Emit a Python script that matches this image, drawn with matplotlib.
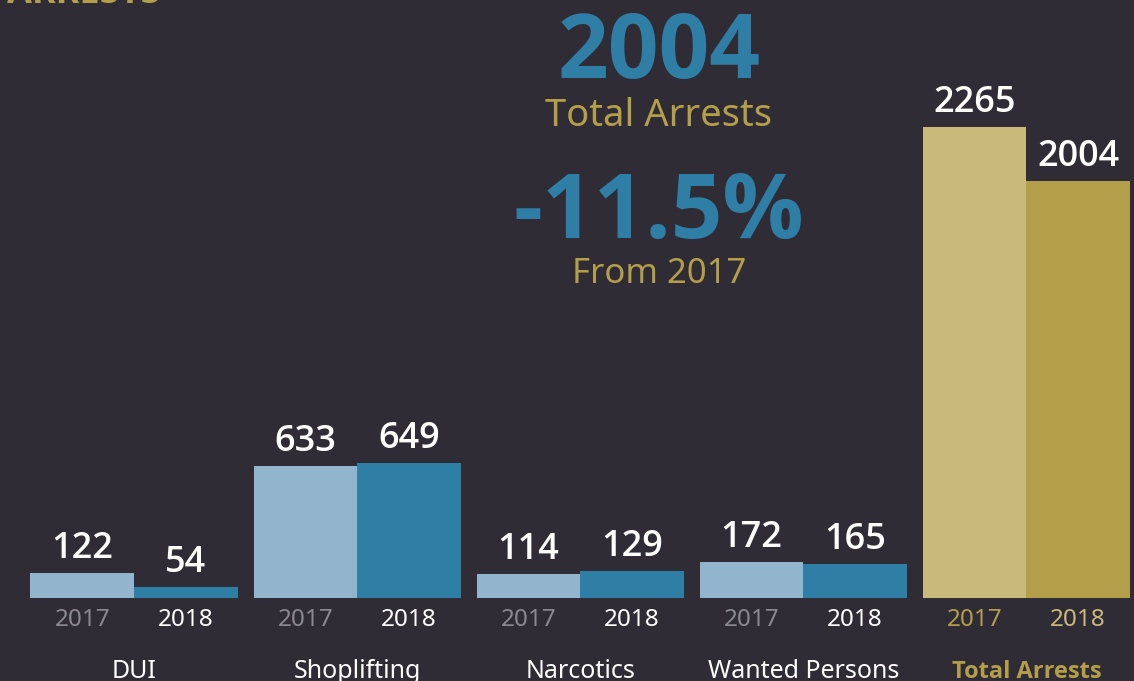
import matplotlib
matplotlib.use("Agg")
import matplotlib.pyplot as plt

categories = ["DUI", "Shoplifting", "Narcotics", "Wanted Persons", "Total Arrests"]
years = ["2017", "2018"]
values_2017 = [122, 633, 114, 172, 2265]
values_2018 = [54, 649, 129, 165, 2004]
headline_value = "2004"
headline_label = "Total Arrests"
change_value = "-11.5%"
change_label = "From 2017"
title = "ARRESTS"

BG = "#2f2c36"
LBLUE = "#93b4cd"
DBLUE = "#2e7ea6"
LGOLD = "#c9b97b"
DGOLD = "#b39e4a"
GREY = "#8a8890"
WHITE = "#ffffff"

plt.rcParams['font.family'] = ['Noto Sans', 'DejaVu Sans']

W, H = 1134, 681
fig = plt.figure(figsize=(W / 100, H / 100), dpi=100, facecolor=BG)
ax = fig.add_axes([0, 0, 1, 1])
ax.set_facecolor(BG)
for s in ax.spines.values():
    s.set_visible(False)
ax.set_xticks([])
ax.set_yticks([])

spacing_px = 223.1
scale = 471 / 2265.0  # px per unit
px = 1 / scale
center0 = 134.0
ax.set_xlim(-center0 / spacing_px, (W - center0) / spacing_px)
ax.set_ylim(-(H - 598) * px, 598 * px)

BOLD = ['Open Sans', 'DejaVu Sans']
bw = 103.5 / spacing_px
n = len(categories)
for i in range(n):
    last = (i == n - 1)
    c17 = LGOLD if last else LBLUE
    c18 = DGOLD if last else DBLUE
    x17 = i - bw / 2
    x18 = i + bw / 2
    ax.bar(x17, values_2017[i], width=bw, color=c17, linewidth=0)
    ax.bar(x18, values_2018[i], width=bw, color=c18, linewidth=0)
    for x, v in ((x17, values_2017[i]), (x18, values_2018[i])):
        ax.text(x, v + 15 * px, str(v), ha='center', va='baseline',
                color=WHITE, fontsize=26, fontweight='semibold', family=['Open Sans', 'DejaVu Sans'])
    ycol17 = DGOLD if last else GREY
    ycol18 = LGOLD if last else WHITE
    ax.text(x17, -28 * px, years[0], ha='center', va='baseline', color=ycol17, fontsize=17.5)
    ax.text(x18, -28 * px, years[1], ha='center', va='baseline', color=ycol18, fontsize=17.5)
    ax.text(i, -80 * px, categories[i], ha='center', va='baseline',
            color=DGOLD if last else WHITE, fontsize=17 if last else 18,
            fontweight='bold' if last else 'normal',
            family=BOLD if last else ['Noto Sans', 'DejaVu Sans'])

cx = 659 / W
fig.text(cx, 1 - 78 / H, headline_value, ha='center', va='baseline', color=DBLUE,
         fontsize=64, fontweight='bold', family=BOLD)
fig.text(cx, 1 - 126 / H, headline_label, ha='center', va='baseline', color=DGOLD,
         fontsize=27.5)
fig.text(cx, 1 - 238 / H, change_value, ha='center', va='baseline', color=DBLUE,
         fontsize=65, fontweight='bold', family=BOLD)
fig.text(cx, 1 - 283 / H, change_label, ha='center', va='baseline', color=DGOLD,
         fontsize=25)
fig.text(7 / W, 1 - 3 / H, title, ha='left', va='baseline', color=DGOLD,
         fontsize=26, fontweight='bold', family=BOLD)

fig.savefig("out.png", dpi=100, facecolor=BG)
